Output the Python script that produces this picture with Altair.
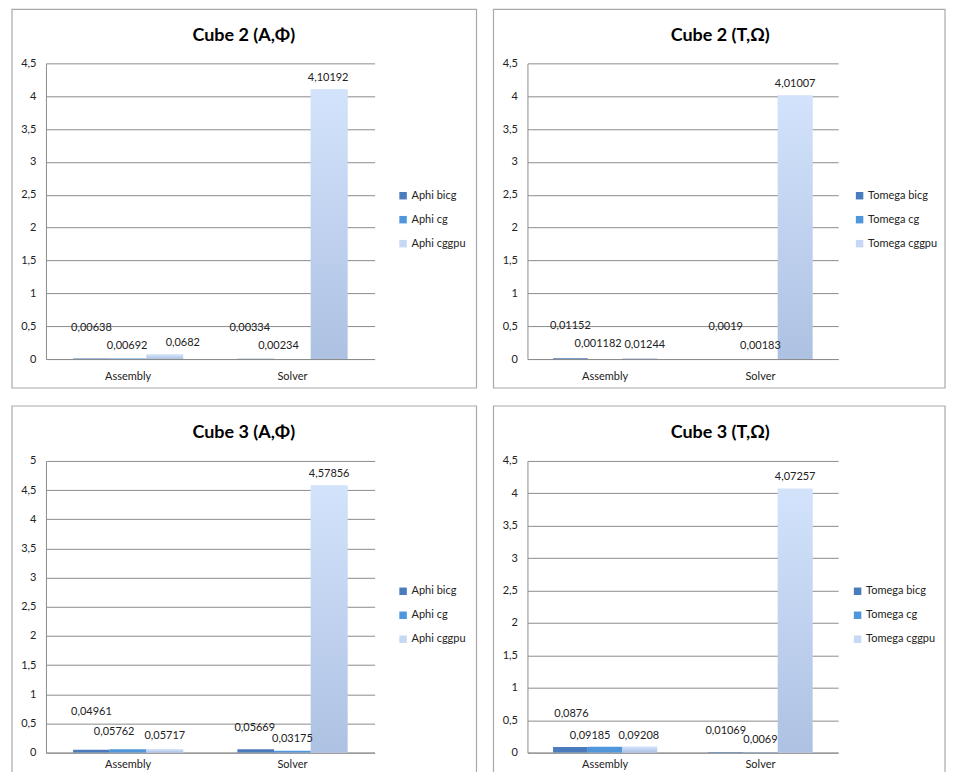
import altair as alt
import pandas as pd

categories = ["Assembly", "Solver"]

p1_series = ["Aphi bicg", "Aphi cg", "Aphi cggpu"]
p1_assembly = [0.00638, 0.00692, 0.0682]
p1_solver = [0.00334, 0.00234, 4.10192]

p2_series = ["Tomega bicg", "Tomega cg", "Tomega cggpu"]
p2_assembly = [0.01152, 0.001182, 0.01244]
p2_solver = [0.0019, 0.00183, 4.01007]

p3_series = ["Aphi bicg", "Aphi cg", "Aphi cggpu"]
p3_assembly = [0.04961, 0.05762, 0.05717]
p3_solver = [0.05669, 0.03175, 4.57856]

p4_series = ["Tomega bicg", "Tomega cg", "Tomega cggpu"]
p4_assembly = [0.0876, 0.09185, 0.09208]
p4_solver = [0.01069, 0.0069, 4.07257]

titles = ["Cube 2 (A,Φ)", "Cube 2 (T,Ω)", "Cube 3 (A,Φ)", "Cube 3 (T,Ω)"]
y_max = [4.5, 4.5, 5.0, 4.5]

FONT = "Lato"
COLORS = ["#4a7bbd", "#4f96dc", "#c6d8f3"]

# label placement nudges (dx, dy) in pixels, styling only
NUDGES = [
    {("Assembly", 0): (0, -31), ("Assembly", 1): (-1, -13), ("Assembly", 2): (18, -12),
     ("Solver", 0): (-6, -31), ("Solver", 1): (-14, -13), ("Solver", 2): (-1, -12)},
    {("Assembly", 0): (0, -32), ("Assembly", 1): (-7, -15), ("Assembly", 2): (5, -13),
     ("Solver", 0): (0, -32), ("Solver", 1): (0, -13), ("Solver", 2): (0, -12)},
    {("Assembly", 0): (0, -38), ("Assembly", 1): (-14, -17), ("Assembly", 2): (0, -13),
     ("Solver", 0): (-1, -21), ("Solver", 1): (0, -12), ("Solver", 2): (0, -12)},
    {("Assembly", 0): (1, -33), ("Assembly", 1): (-15, -11), ("Assembly", 2): (-1, -11),
     ("Solver", 0): (0, -21), ("Solver", 1): (0, -12), ("Solver", 2): (0, -12)},
]


def panel(idx, series, asm, sol, w, h, ext, top_ext, bot_ext, lx, ly, tx, ty, xpad):
    rows = []
    for cat, vals in zip(categories, [asm, sol]):
        for s, v in zip(series, vals):
            rows.append({"category": cat, "series": s, "value": v})
    df = pd.DataFrame(rows)
    ymax = y_max[idx]
    ticks = [i * 0.5 for i in range(int(ymax / 0.5) + 1)]

    X = alt.X("category:N", sort=categories, title=None,
              scale=alt.Scale(paddingInner=0.33, paddingOuter=0.165),
              axis=alt.Axis(labelAngle=0, ticks=False, labelPadding=xpad,
                            labelFont=FONT, labelFontSize=11, labelColor="#222",
                            domainColor="#8c8c8c", domainWidth=1))
    XO = alt.XOffset("series:N", sort=series, scale=alt.Scale(domain=series, paddingInner=0))
    Y = alt.Y("value:Q", title=None,
              scale=alt.Scale(domain=[0, ymax], nice=False),
              axis=alt.Axis(values=ticks, ticks=False, labelPadding=10,
                            labelExpr="replace(toString(datum.value), '.', ',')",
                            labelFont=FONT, labelFontSize=11, labelColor="#222",
                            grid=True, gridColor="#8c8c8c", gridWidth=1,
                            domainColor="#8c8c8c", domainWidth=1))

    base = alt.Chart(df)

    box = alt.Chart(pd.DataFrame({"k": [0]})).mark_rect(
        fillOpacity=0, stroke="#a9a9a9", strokeWidth=1.2
    ).encode(x=alt.value(-34), x2=alt.value(w + ext), y=alt.value(-top_ext), y2=alt.value(h + bot_ext))

    bars = base.mark_bar().encode(
        x=X, xOffset=XO, y=Y,
        color=alt.Color("series:N", sort=series,
                        scale=alt.Scale(domain=series, range=COLORS),
                        legend=alt.Legend(orient="none", legendX=lx, legendY=ly, title=None,
                                          symbolType="square", symbolSize=56,
                                          symbolStrokeWidth=0, labelFont=FONT,
                                          labelFontSize=11, labelColor="#222",
                                          rowPadding=12, labelOffset=3)),
    )

    grad = base.transform_filter(alt.datum.series == series[2]).mark_bar(
        fill=alt.Gradient(gradient="linear",
                          stops=[alt.GradientStop(color="#d3e3fc", offset=0),
                                 alt.GradientStop(color="#adc1e2", offset=1)],
                          x1=0, x2=0, y1=0, y2=1)
    ).encode(x=X, xOffset=XO, y=Y)

    labels = []
    for cat in categories:
        for si, s in enumerate(series):
            dx, dy = NUDGES[idx][(cat, si)]
            labels.append(
                base.transform_filter((alt.datum.category == cat) & (alt.datum.series == s))
                .transform_calculate(label="replace(toString(datum.value), '.', ',')")
                .mark_text(font=FONT, fontSize=11, color="#222", dx=dx, dy=dy, baseline="middle")
                .encode(x=X, xOffset=XO, y=Y, text="label:N")
            )

    title = alt.Chart(pd.DataFrame({"k": [0]})).mark_text(
        font=FONT, fontSize=18, fontWeight="bold", color="#000", baseline="middle", align="center"
    ).encode(x=alt.value(tx), y=alt.value(ty), text=alt.value(titles[idx]))

    return alt.layer(box, bars, grad, *labels, title).properties(width=w, height=h)


p1 = panel(0, p1_series, p1_assembly, p1_solver, 329, 296, 102, 54, 29, 352, 127, 198, -27, 11)
p2 = panel(1, p2_series, p2_assembly, p2_solver, 311, 296, 107, 54, 29, 327, 127, 193, -27, 11)
p3 = panel(2, p3_series, p3_assembly, p3_solver, 329, 292, 102, 55, 25, 352, 125, 198, -28, 6)
p4 = panel(3, p4_series, p4_assembly, p4_solver, 311, 292, 107, 55, 25, 325, 125, 193, -28, 6)

top = alt.hconcat(p1, p2, spacing=15).resolve_scale(color="independent", x="independent", y="independent", xOffset="independent").resolve_legend(color="independent")
bottom = alt.hconcat(p3, p4, spacing=15).resolve_scale(color="independent", x="independent", y="independent", xOffset="independent").resolve_legend(color="independent")

chart = alt.vconcat(top, bottom, spacing=16).resolve_scale(
    color="independent", x="independent", y="independent", xOffset="independent"
).resolve_legend(color="independent").properties(
    padding={"left": 3, "top": 0, "right": 0, "bottom": -7}
).configure_view(stroke=None)

chart.save("out.html", embed_options={"renderer": "svg", "actions": False})
